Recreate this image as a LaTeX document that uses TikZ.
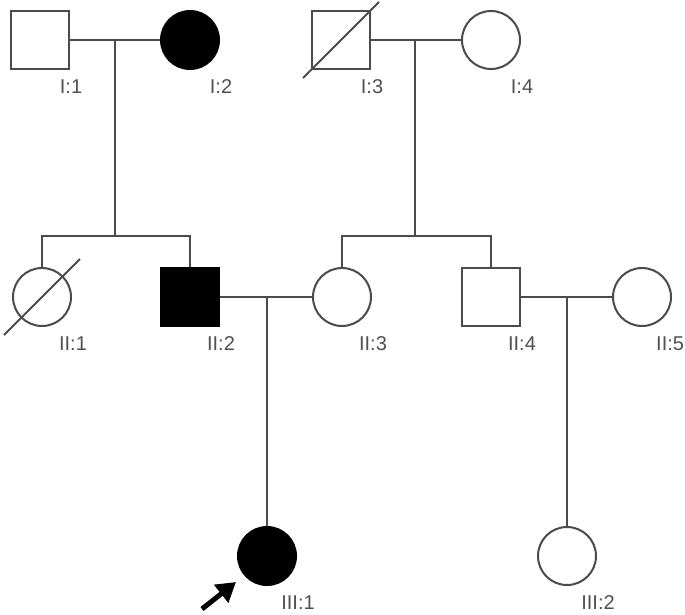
\documentclass[tikz,border=0pt]{standalone}
\usepackage{fontspec}
\setmainfont{Liberation Sans}
\usepackage{tikz}
\usetikzlibrary{arrows.meta}
\definecolor{pedline}{RGB}{75,75,75}
\definecolor{taggray}{RGB}{80,80,80}

\begin{document}
\begin{tikzpicture}[x=1pt,y=-1pt,line width=2pt,
        male/.style={draw=pedline, line width=2pt, rectangle, minimum size=58pt, inner sep=0pt, fill=white},
        female/.style={draw=pedline, line width=2pt, circle, minimum size=58pt, inner sep=0pt, fill=white},
        affected/.style={fill=black, draw=black},
        tag/.style={text=taggray, font=\fontsize{20}{20}\selectfont, inner sep=0pt}]
        \useasboundingbox (0,0) rectangle (685,614);
        % generation I
        \node[male] (i1) at (40,40) {};
        \node[female, affected] (i2) at (190,40) {};
        \node[male] (i3) at (341,40) {};
        \node[female] (i4) at (491,40) {};
        % generation II
        \node[female] (ii1) at (42,297) {};
        \node[male, affected] (ii2) at (190,297) {};
        \node[female] (ii3) at (342,297) {};
        \node[male] (ii4) at (491,297) {};
        \node[female] (ii5) at (642,297) {};
        % generation III
        \node[female, affected] (iii1) at (267,556) {};
        \node[female] (iii2) at (567,556) {};
        \foreach \n/\t in {i1/I:1, i2/I:2, i3/I:3, i4/I:4, ii1/II:1, ii2/II:2, ii3/II:3, ii4/II:4, iii1/III:1, iii2/III:2}
            \path (\n.east |- \n.south) ++(1,17) node[tag] (tag-\n) {\t};
        \path (ii5.east |- ii5.south) ++(13,17) node[tag, anchor=east] (tag-ii5) {II:5};
        % deceased
        \draw[pedline] ([shift={(-38,38)}]i3.center) -- ([shift={(38,-38)}]i3.center);
        \draw[pedline] ([shift={(-38,38)}]ii1.center) -- ([shift={(38,-38)}]ii1.center);
        % couples and children
        \coordinate (m1) at (115,40);
        \coordinate (m2) at (415,40);
        \coordinate (m3) at (267,297);
        \coordinate (m4) at (567,297);
        \coordinate (s1) at (115,236);
        \coordinate (s2) at (415,236);
        \draw[pedline] (i1) -- (i2);
        \draw[pedline] (i3) -- (i4);
        \draw[pedline] (ii2) -- (ii3);
        \draw[pedline] (ii4) -- (ii5);
        \draw[pedline] (m1) -- (s1);
        \draw[pedline] (m2) -- (s2);
        \draw[pedline] (ii1.north) |- (s1) -| (ii2.north);
        \draw[pedline] (ii3.north) |- (s2) -| (ii4.north);
        \draw[pedline] (m3) -- (iii1.north);
        \draw[pedline] (m4) -- (iii2.north);
        % proband
        \coordinate (p-tail) at (202,609);
        \coordinate (p-tip) at (236,582);
        \draw[black, line width=5pt, -{Triangle[width=22pt,length=19pt]}] (p-tail) -- (p-tip);
\end{tikzpicture}
\end{document}
